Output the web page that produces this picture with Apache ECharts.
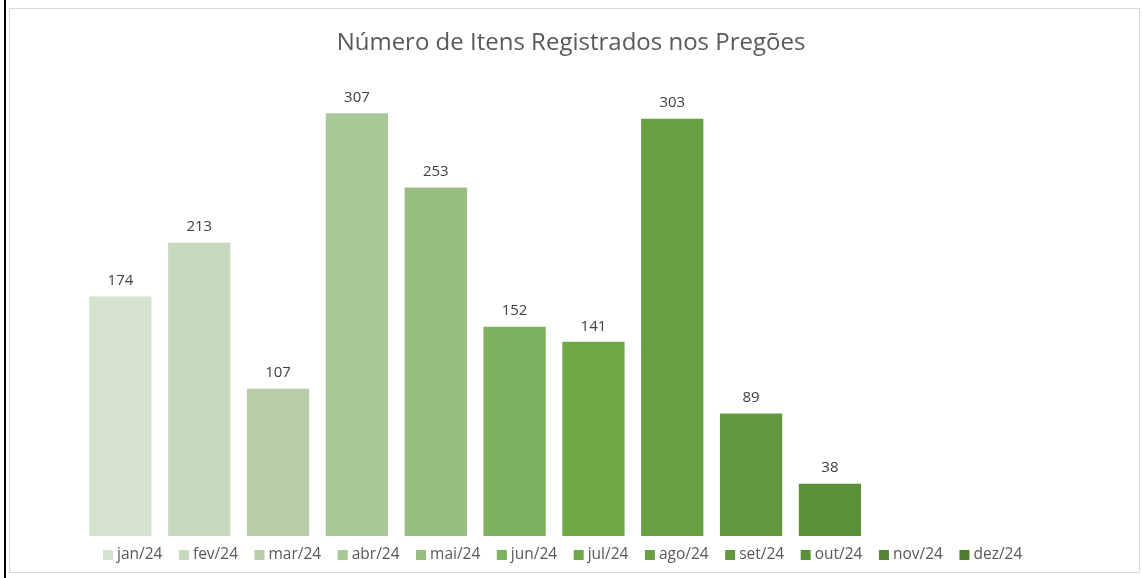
<!DOCTYPE html>
<html>
<head>
<meta charset="utf-8">
<script src="https://cdn.jsdelivr.net/npm/echarts@6/dist/echarts.min.js"></script>
<style>
html,body{margin:0;padding:0;background:#fff;}
#wrap{position:relative;width:1142px;height:578px;overflow:hidden;}
#chart{position:absolute;left:0;top:0;width:1142px;height:578px;}
#bl{position:absolute;left:4px;top:0;width:2px;height:578px;background:#000;}
#frame{position:absolute;left:9px;top:8px;width:1131px;height:565px;border:1px solid #d9d9d9;box-sizing:border-box;pointer-events:none;}
</style>
</head>
<body>
<div id="wrap">
<div id="chart"></div>
<div id="frame"></div>
<div id="bl"></div>
</div>
<script>
const titleText = 'Número de Itens Registrados nos Pregões';
const months = ['jan/24','fev/24','mar/24','abr/24','mai/24','jun/24','jul/24','ago/24','set/24','out/24','nov/24','dez/24'];
const values = [174, 213, 107, 307, 253, 152, 141, 303, 89, 38, null, null];
const colors = ['#D5E2CD','#C6D9BE','#B8CEAB','#A8C897','#97BD81','#7DB15E','#6EA846','#68A142','#62983E','#5B8F3A','#548636','#4C7B31'];

const chart = echarts.init(document.getElementById('chart'), null, {renderer:'canvas'});
const series = months.map((m, i) => ({
  name: m,
  type: 'bar',
  stack: 'all',
  barCategoryGap: '21%',
  data: months.map((_, j) => j === i ? values[i] : null),
  itemStyle: { color: colors[i] },
  label: {
    show: true, position: 'top', distance: 8,
    color: '#404040', fontSize: 15, fontFamily: 'Open Sans',
    formatter: p => (p.value == null ? '' : p.value)
  }
}));

chart.setOption({
  animation: false,
  title: {
    text: titleText, left: 'center', top: 26,
    textStyle: { color: '#595959', fontSize: 24, fontWeight: 'normal', fontFamily: 'Open Sans' }
  },
  legend: {
    data: months, bottom: 10, left: 98, itemWidth: 10, itemHeight: 10, itemGap: 16.5,
    icon: 'rect',
    textStyle: { color: '#595959', fontSize: 15.5, fontFamily: 'Open Sans', padding: [0,0,0,-1] }
  },
  grid: { left: 81, right: 115, top: 54, bottom: 42, containLabel: false },
  xAxis: {
    type: 'category', data: months,
    axisLine: { show: false }, axisTick: { show: false }, axisLabel: { show: false }
  },
  yAxis: {
    type: 'value', min: 0, max: 350, interval: 50,
    axisLine: { show: false }, axisTick: { show: false }, axisLabel: { show: false },
    splitLine: { show: false }
  },
  series: series
});
</script>
</body>
</html>
